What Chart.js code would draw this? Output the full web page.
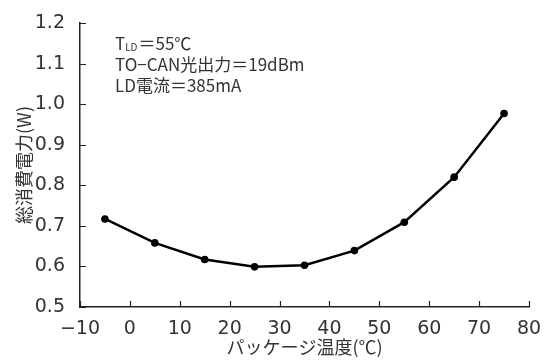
<!DOCTYPE html>
<html>
<head>
<meta charset="utf-8">
<script src="https://cdn.jsdelivr.net/npm/chart.js@4.4.9/dist/chart.umd.min.js"></script>
<style>
  html, body { margin: 0; padding: 0; background: #fff; }
  #wrap { width: 550px; height: 360px; }
</style>
</head>
<body>
<div id="wrap"><canvas id="myChart" width="550" height="360"></canvas></div>
<script>
const temps = [-5, 5, 15, 25, 35, 45, 55, 65, 75];
const power = [0.717, 0.658, 0.617, 0.599, 0.603, 0.639, 0.709, 0.820, 0.977];
const xTicks = [-10, 0, 10, 20, 30, 40, 50, 60, 70, 80];
const yTicks = [0.5, 0.6, 0.7, 0.8, 0.9, 1.0, 1.1, 1.2];
const noteLines = ["＝55℃", "TO−CAN光出力＝19dBm", "LD電流＝385mA"];

const FONT = '"Noto Sans CJK JP", "Noto Sans", sans-serif';
const NUMFONT = '"DejaVu Sans", sans-serif';
const TEXT = "#333";

// inward tick marks + annotation text
const extras = {
  id: "extras",
  afterDraw(chart) {
    const ctx = chart.ctx;
    const { x, y } = chart.scales;
    const a = chart.chartArea;
    ctx.save();
    ctx.strokeStyle = "#222";
    ctx.lineWidth = 1.2;
    ctx.beginPath();
    xTicks.forEach(v => {
      const px = Math.round(x.getPixelForValue(v)) + 0.5;
      ctx.moveTo(px, a.bottom);
      ctx.lineTo(px, a.bottom - 6);
    });
    yTicks.forEach(v => {
      const py = Math.round(y.getPixelForValue(v)) + 0.5;
      ctx.moveTo(a.left, py);
      ctx.lineTo(a.left + 6, py);
    });
    ctx.stroke();

    ctx.fillStyle = TEXT;
    ctx.textBaseline = "alphabetic";
    ctx.textAlign = "left";
    const lx = 115;
    ctx.font = "17px " + FONT;
    ctx.fillText("T", lx, 50);
    const tw = ctx.measureText("T").width;
    ctx.font = "10px " + FONT;
    ctx.fillText("LD", lx + tw, 51);
    const sw = ctx.measureText("LD").width;
    ctx.font = "17px " + FONT;
    ctx.fillText(noteLines[0], lx + tw + sw + 1, 50);
    ctx.fillText(noteLines[1], lx, 71);
    ctx.fillText(noteLines[2], lx, 92);
    ctx.restore();
  }
};

new Chart(document.getElementById("myChart"), {
  type: "line",
  data: {
    datasets: [{
      data: temps.map((t, i) => ({ x: t, y: power[i] })),
      borderColor: "#000",
      backgroundColor: "#000",
      borderWidth: 2.5,
      pointRadius: 3.8,
      pointBackgroundColor: "#000",
      pointBorderWidth: 0,
      tension: 0,
    }],
  },
  options: {
    responsive: false,
    animation: false,
    layout: { padding: { top: 23, right: 21, left: 0, bottom: 0 } },
    plugins: { legend: { display: false }, tooltip: { enabled: false } },
    scales: {
      x: {
        type: "linear",
        min: -10,
        max: 80,
        afterBuildTicks: s => { s.ticks = xTicks.map(v => ({ value: v })); },
        afterFit: s => { s.height = 53; },
        grid: { display: false },
        border: { display: true, color: "#222", width: 1.5 },
        ticks: {
          padding: 3,
          color: TEXT,
          font: { family: NUMFONT, size: 19 },
          maxRotation: 0,
          callback: v => (v < 0 ? "−" + Math.abs(v) : String(v)),
        },
        title: {
          display: true,
          text: "パッケージ温度(℃)",
          color: TEXT,
          font: { family: FONT, size: 18 },
          padding: { top: 0, bottom: 2 },
        },
      },
      y: {
        min: 0.5,
        max: 1.2,
        afterBuildTicks: s => { s.ticks = yTicks.map(v => ({ value: v })); },
        afterFit: s => { s.width = 80; },
        grid: { display: false },
        border: { display: true, color: "#222", width: 1.5 },
        ticks: {
          padding: 7,
          color: TEXT,
          font: { family: NUMFONT, size: 19 },
          callback: v => v.toFixed(1),
        },
        title: {
          display: true,
          text: "総消費電力(W)",
          color: TEXT,
          font: { family: FONT, size: 18 },
          padding: { top: 13, bottom: 0 },
        },
      },
    },
  },
  plugins: [extras],
});
</script>
</body>
</html>
